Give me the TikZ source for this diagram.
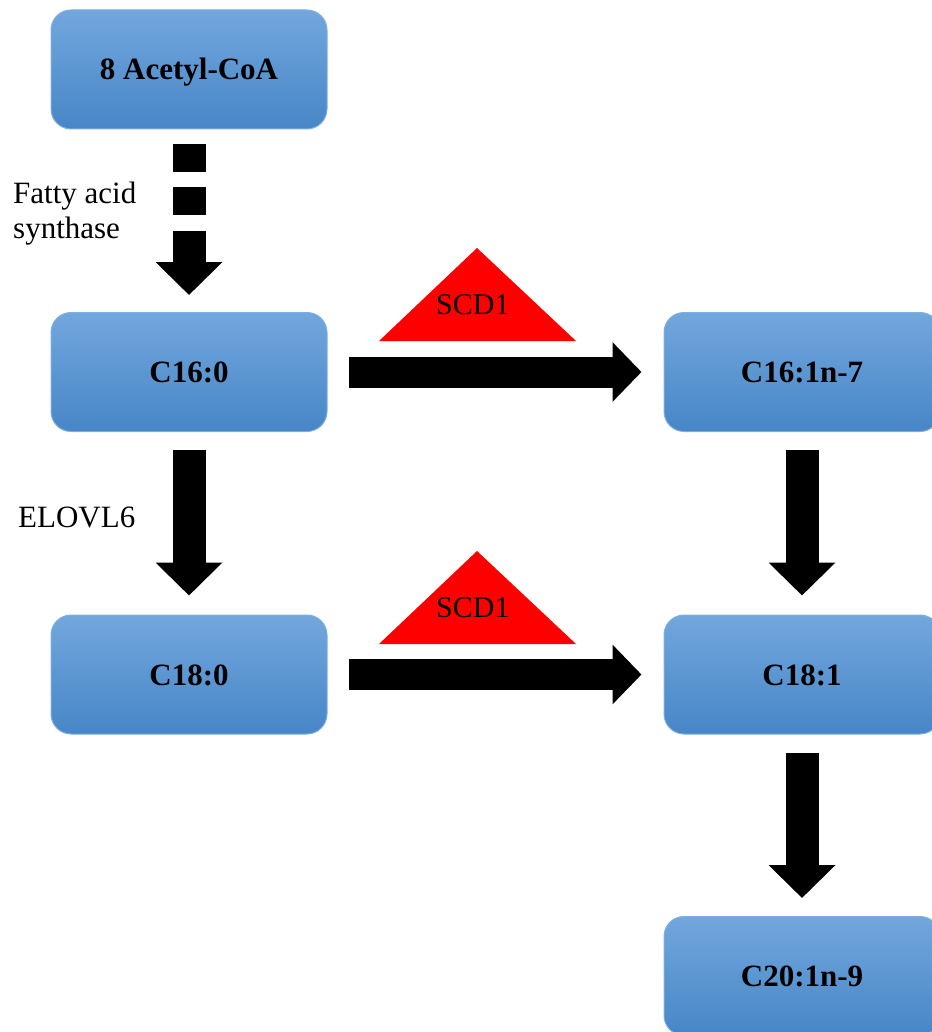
\documentclass[tikz,border=0pt]{standalone}
\usepackage{fontspec}
\setmainfont{Liberation Serif}
\usetikzlibrary{arrows.meta,calc}
\definecolor{boxtop}{RGB}{114,167,221}
\definecolor{boxmid}{RGB}{91,155,213}
\definecolor{boxbot}{RGB}{71,134,199}
\definecolor{boxedge}{RGB}{125,175,225}
\definecolor{enzred}{RGB}{255,0,0}
\begin{document}
\begin{tikzpicture}[x=1pt,y=-1pt,
  stage/.style={draw=boxedge, line width=1pt, rounded corners=20pt,
    top color=boxtop, middle color=boxmid, bottom color=boxbot,
    minimum width=276pt, minimum height=119pt, inner sep=0pt,
    font=\fontsize{31}{36}\bfseries\selectfont, text height=21pt, text depth=0pt},
  blockarrow/.style={line width=33pt,
    -{Triangle[width=65pt,length=33pt]}},
  sidearrow/.style={line width=31pt,
    -{Triangle[width=58pt,length=29pt]}},
  note/.style={inner sep=0pt, font=\fontsize{31}{35}\selectfont},
  enzlabel/.style={inner sep=0pt, font=\fontsize{30}{34}\selectfont},
  enzyme/.style={fill=enzred}]
\useasboundingbox (0,0) rectangle (931,1032);

% metabolite boxes
\node[stage] (acoa) at (189,69.5) {8 Acetyl-CoA};
\node[stage] (c160) at (189,372) {C16:0};
\node[stage] (c180) at (189,674.5) {C18:0};
\node[stage] (c161) at (802,372) {C16:1n-7};
\node[stage] (c181) at (802,674.5) {C18:1};
\node[stage] (c201) at (802,976) {C20:1n-9};

% conversion arrows
\draw[blockarrow, dash pattern=on 28pt off 15pt on 28pt off 16pt on 300pt off 0pt]
  ([yshift=-15pt]acoa.south) -- ([yshift=17pt]c160.north);
\draw[blockarrow] ([yshift=-18pt]c160.south) -- ([yshift=19pt]c180.north);
\draw[blockarrow] ([yshift=-18pt]c161.south) -- ([yshift=19pt]c181.north);
\draw[blockarrow] ([yshift=-18pt]c181.south) -- ([yshift=18pt]c201.north);
\draw[sidearrow] ([xshift=21pt]c160.east) -- ([xshift=-22pt]c161.west);
\draw[sidearrow] ([xshift=21pt]c180.east) -- ([xshift=-22pt]c181.west);

% desaturase triangles
\fill[enzyme] (379,341) -- (477,248) -- (576,341) -- cycle;
\fill[enzyme] (379,644) -- (477,551) -- (576,644) -- cycle;
\node[enzlabel, anchor=base west] (scda) at (436,314) {SCD1};
\node[enzlabel, anchor=base west] (scdb) at (436,617) {SCD1};

% enzyme labels
\node[note, anchor=north west, align=left] (fas) at (13,182) {Fatty acid\\synthase};
\node[note, anchor=base west] (elovl) at (18,527) {ELOVL6};
\end{tikzpicture}
\end{document}
